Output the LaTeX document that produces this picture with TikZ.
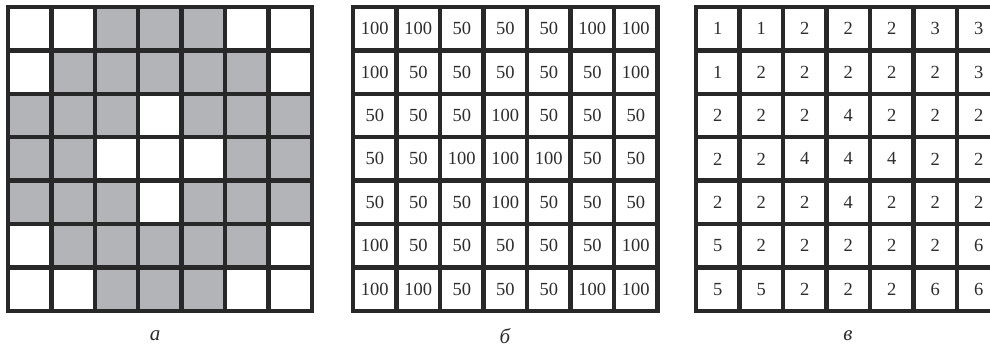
\documentclass[tikz,border=0pt]{standalone}
\usepackage{fontspec}
\setmainfont{Liberation Serif}
\begin{document}
\begin{tikzpicture}[x=1pt,y=-1pt,
  cell/.style={draw=linecol, line width=4.4pt, minimum size=43.4pt, inner sep=0pt, outer sep=0pt,
     font=\fontsize{18.5}{20}\selectfont, text=textcol},
  caption/.style={font=\itshape\fontsize{21}{22}\selectfont, text=textcol, inner sep=0pt}]
\definecolor{linecol}{RGB}{40,40,40}
\definecolor{textcol}{RGB}{45,45,45}
\definecolor{cellcolA}{RGB}{255,255,255}
\definecolor{cellcolB}{RGB}{179,180,184}
\clip (0,0) rectangle (990,352);
\fill[white] (0,0) rectangle (990,352);
% grid a
\foreach \row [count=\r] in {{A,A,B,B,B,A,A},{A,B,B,B,B,B,A},{B,B,B,A,B,B,B},{B,B,A,A,A,B,B},{B,B,B,A,B,B,B},{A,B,B,B,B,B,A},{A,A,B,B,B,A,A}} {
  \foreach \v [count=\c] in \row {
    \node[cell, fill=cellcol\v] (a-\r-\c) at ({8+(\c-0.5)*43.4},{7+(\r-0.5)*43.4}) {};
  }
}
% grid b
\foreach \row [count=\r] in {{100,100,50,50,50,100,100},{100,50,50,50,50,50,100},{50,50,50,100,50,50,50},{50,50,100,100,100,50,50},{50,50,50,100,50,50,50},{100,50,50,50,50,50,100},{100,100,50,50,50,100,100}} {
  \foreach \v [count=\c] in \row {
    \node[cell, fill=white] (b-\r-\c) at ({353+(\c-0.5)*43.5},{7+(\r-0.5)*43.4}) {\v};
  }
}
% grid c
\foreach \row [count=\r] in {{1,1,2,2,2,3,3},{1,2,2,2,2,2,3},{2,2,2,4,2,2,2},{2,2,4,4,4,2,2},{2,2,2,4,2,2,2},{5,2,2,2,2,2,6},{5,5,2,2,2,6,6}} {
  \foreach \v [count=\c] in \row {
    \node[cell, fill=white] (c-\r-\c) at ({696+(\c-0.5)*43.5},{7+(\r-0.5)*43.4}) {\v};
  }
}
\node[caption] (capa) at (155,336) {а};
\node[caption] (capb) at (505,336) {б};
\node[caption] (capc) at (848,336) {в};
\end{tikzpicture}
\end{document}
